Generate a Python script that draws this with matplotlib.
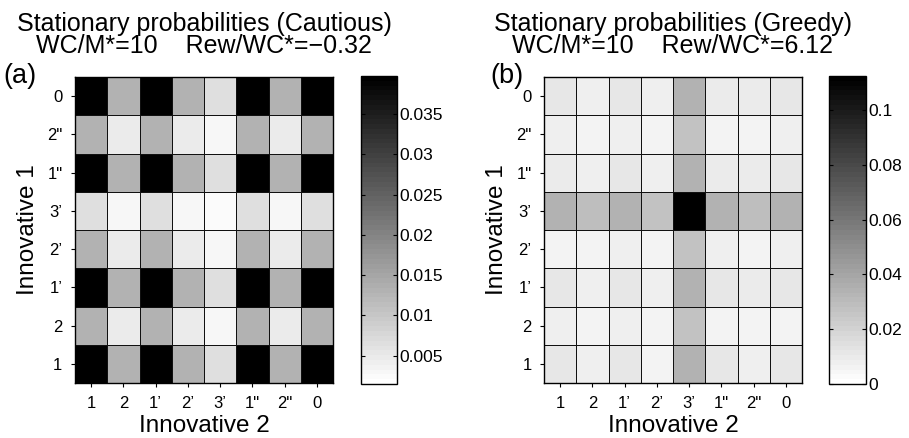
import numpy as np
import matplotlib
matplotlib.use('Agg')
import matplotlib.pyplot as plt
from matplotlib.colors import Normalize

plt.rcParams['font.family'] = ['Liberation Sans', 'DejaVu Sans']

# tick labels (rows listed top to bottom)
rows = ['0', '2"', '1"', '3\u2019', '2\u2019', '1\u2019', '2', '1']
cols = ['1', '2', '1\u2019', '2\u2019', '3\u2019', '1"', '2"', '0']

# stationary probabilities, Cautious (rows top -> bottom)
cautious = [
    [0.0397, 0.0133, 0.0397, 0.0133, 0.0067, 0.0397, 0.0133, 0.0397],
    [0.0133, 0.0045, 0.0133, 0.0045, 0.0029, 0.0133, 0.0045, 0.0133],
    [0.0397, 0.0133, 0.0397, 0.0133, 0.0067, 0.0397, 0.0133, 0.0397],
    [0.0067, 0.0029, 0.0067, 0.0029, 0.0022, 0.0067, 0.0029, 0.0067],
    [0.0133, 0.0045, 0.0133, 0.0045, 0.0029, 0.0133, 0.0045, 0.0133],
    [0.0397, 0.0133, 0.0397, 0.0133, 0.0067, 0.0397, 0.0133, 0.0397],
    [0.0133, 0.0045, 0.0133, 0.0045, 0.0029, 0.0133, 0.0045, 0.0133],
    [0.0397, 0.0133, 0.0397, 0.0133, 0.0067, 0.0397, 0.0133, 0.0397],
]

# stationary probabilities, Greedy (rows top -> bottom)
greedy = [
    [0.0110, 0.0075, 0.0110, 0.0075, 0.0349, 0.0101, 0.0093, 0.0110],
    [0.0084, 0.0066, 0.0084, 0.0066, 0.0278, 0.0066, 0.0053, 0.0084],
    [0.0101, 0.0084, 0.0110, 0.0084, 0.0349, 0.0101, 0.0093, 0.0110],
    [0.0349, 0.0282, 0.0349, 0.0278, 0.1125, 0.0349, 0.0282, 0.0349],
    [0.0066, 0.0066, 0.0075, 0.0053, 0.0278, 0.0075, 0.0066, 0.0075],
    [0.0110, 0.0084, 0.0110, 0.0084, 0.0349, 0.0110, 0.0088, 0.0110],
    [0.0075, 0.0053, 0.0075, 0.0066, 0.0278, 0.0066, 0.0066, 0.0066],
    [0.0110, 0.0075, 0.0110, 0.0070, 0.0349, 0.0110, 0.0084, 0.0110],
]

cmap = plt.get_cmap('gray_r', 64)

fig = plt.figure(figsize=(9.09, 4.38), dpi=100)
W, H = 909.0, 438.0


def px_axes(x0, y0, x1, y1):
    return fig.add_axes([x0 / W, 1 - y1 / H, (x1 - x0) / W, (y1 - y0) / H])


panels = [
    (cautious, 'Stationary probabilities (Cautious)',
     'WC/M*=10    Rew/WC*=\u22120.32', '(a)', 75, 333, 361, 397, 3,
     (0.0015, 0.0397), [0.005, 0.01, 0.015, 0.02, 0.025, 0.03, 0.035],
     ['0.005', '0.01', '0.015', '0.02', '0.025', '0.03', '0.035']),
    (greedy, 'Stationary probabilities (Greedy)',
     'WC/M*=10    Rew/WC*=6.12', '(b)', 544, 802, 829, 866, 490,
     (0.0, 0.1125), [0, 0.02, 0.04, 0.06, 0.08, 0.1],
     ['0', '0.02', '0.04', '0.06', '0.08', '0.1']),
]

for data, t1, t2, tag, ax0, ax1, cb0, cb1, tagx, lims, cticks, clabels in panels:
    ax = px_axes(ax0, 77, ax1, 383)
    norm = Normalize(vmin=lims[0], vmax=lims[1])
    mesh = ax.pcolormesh(np.arange(9), np.arange(9), np.array(data),
                         cmap=cmap, norm=norm, edgecolors='#111111',
                         linewidth=0.7)
    ax.set_xlim(0, 8)
    ax.set_ylim(8, 0)
    ax.set_xticks(np.arange(8) + 0.5)
    ax.set_xticklabels(cols, fontsize=12)
    ax.set_yticks(np.arange(8) + 0.5)
    ax.set_yticklabels(rows, fontsize=12)
    ax.tick_params(direction='out', length=3, width=0.8, pad=6)
    for s in ax.spines.values():
        s.set_linewidth(1.0)
    ax.set_xlabel('Innovative 2', fontsize=17.5, labelpad=3)
    ax.set_ylabel('Innovative 1', fontsize=17.5, labelpad=6)

    cx = (ax0 + ax1) / 2 / W
    fig.text(cx, 1 - 31 / H, t1, fontsize=18, ha='center', va='baseline')
    fig.text(cx, 1 - 53 / H, t2, fontsize=18, ha='center', va='baseline')
    fig.text(tagx / W, 1 - 83 / H, tag, fontsize=19.5, ha='left', va='baseline')

    cax = px_axes(cb0, 76, cb1, 384)
    cb = fig.colorbar(mesh, cax=cax)
    cb.set_ticks(cticks)
    cb.set_ticklabels(clabels)
    cax.tick_params(direction='in', length=3, width=0.8, labelsize=12.5,
                    left=True, right=True, pad=2)
    cb.outline.set_linewidth(1.0)

fig.savefig('out.png', dpi=100)
